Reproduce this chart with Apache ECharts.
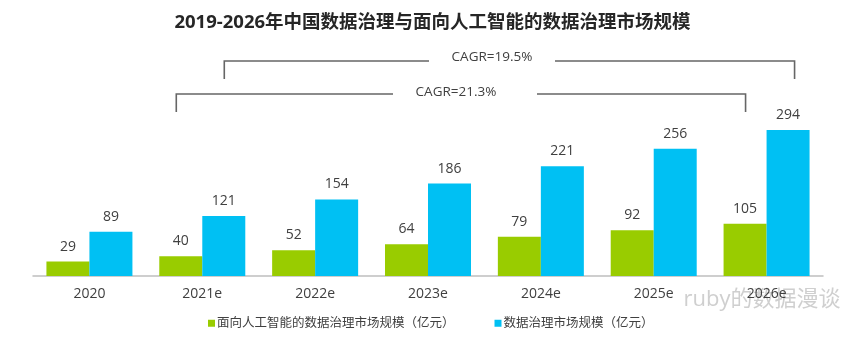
<!DOCTYPE html>
<html>
<head>
<meta charset="utf-8">
<script src="https://cdn.jsdelivr.net/npm/echarts@6/dist/echarts.min.js"></script>
<style>
html,body{margin:0;padding:0;background:#fff;}
#c{width:865px;height:347px;}
</style>
</head>
<body>
<div id="c"></div>
<script>
const titleText = '2019-2026年中国数据治理与面向人工智能的数据治理市场规模';
const categories = ['2020', '2021e', '2022e', '2023e', '2024e', '2025e', '2026e'];
const aiSeriesName = '面向人工智能的数据治理市场规模（亿元）';
const aiValues = [29, 40, 52, 64, 79, 92, 105];
const dgSeriesName = '数据治理市场规模（亿元）';
const dgValues = [89, 121, 154, 186, 221, 256, 294];
const cagrTop = 'CAGR=19.5%';
const cagrBottom = 'CAGR=21.3%';
const watermark = 'ruby的数据漫谈';

const FONT = '"Open Sans", "Noto Sans CJK SC", sans-serif';
const chart = echarts.init(document.getElementById('c'), null, {renderer: 'canvas'});

const labelStyle = {
  show: true, position: 'top', distance: 8,
  color: '#404040', fontSize: 14, fontFamily: FONT
};

chart.setOption({
  animation: false,
  textStyle: {fontFamily: FONT},
  title: {
    text: titleText, left: 'center', top: 8,
    textStyle: {fontSize: 18.5, fontWeight: 'bold', color: '#262626', fontFamily: FONT}
  },
  legend: {
    left: 203, top: 312, icon: 'rect', itemWidth: 7, itemHeight: 7, itemGap: 40,
    textStyle: {fontSize: 12.5, color: '#404040', fontFamily: FONT, padding: [0, 0, 0, -3]},
    data: [aiSeriesName, dgSeriesName]
  },
  grid: {left: 33, right: 42, top: 127, bottom: 71},
  xAxis: {
    type: 'category', data: categories,
    axisLine: {lineStyle: {color: '#bfbfbf', width: 1.5}},
    axisTick: {show: false},
    axisLabel: {color: '#404040', fontSize: 14, margin: 11, fontFamily: FONT}
  },
  yAxis: {type: 'value', min: 0, max: 300, show: false, splitLine: {show: false}},
  series: [
    {name: aiSeriesName, type: 'bar', data: aiValues, barWidth: 43, barGap: '0%',
     itemStyle: {color: '#99cc00'}, label: labelStyle},
    {name: dgSeriesName, type: 'bar', data: dgValues, barWidth: 43, barGap: '0%',
     itemStyle: {color: '#00c0f3'}, label: labelStyle}
  ]
});

// CAGR brackets anchored to category positions
function px(i) { return chart.convertToPixel({xAxisIndex: 0}, i); }
const lineStyle = {stroke: '#666', lineWidth: 1.6};
function bracket(x1, x2, y, yEnd, gapL, gapR, text, textX, textY) {
  return [
    {type: 'polyline', shape: {points: [[x1, yEnd], [x1, y], [gapL, y]]}, style: lineStyle, silent: true},
    {type: 'polyline', shape: {points: [[gapR, y], [x2, y], [x2, yEnd]]}, style: lineStyle, silent: true},
    {type: 'text', x: textX, y: textY, style: {text: text, fill: '#404040', fontSize: 13.5, fontFamily: FONT, align: 'center', verticalAlign: 'middle'}, silent: true}
  ];
}
const xTopL = px(1) + 22, xTopR = px(6) + 28;
const xBotL = px(1) - 26, xBotR = px(6) - 21;
const g = [].concat(
  bracket(xTopL, xTopR, 61, 79, 429, 555, cagrTop, 492, 57),
  bracket(xBotL, xBotR, 94, 112, 393, 537, cagrBottom, 456, 92),
  [{type: 'text', x: 762, y: 300, style: {text: watermark, fill: 'rgba(160,160,160,0.5)', fontSize: 22, fontFamily: FONT, align: 'center', verticalAlign: 'middle'}, silent: true}]
);
chart.setOption({graphic: g});
</script>
</body>
</html>
